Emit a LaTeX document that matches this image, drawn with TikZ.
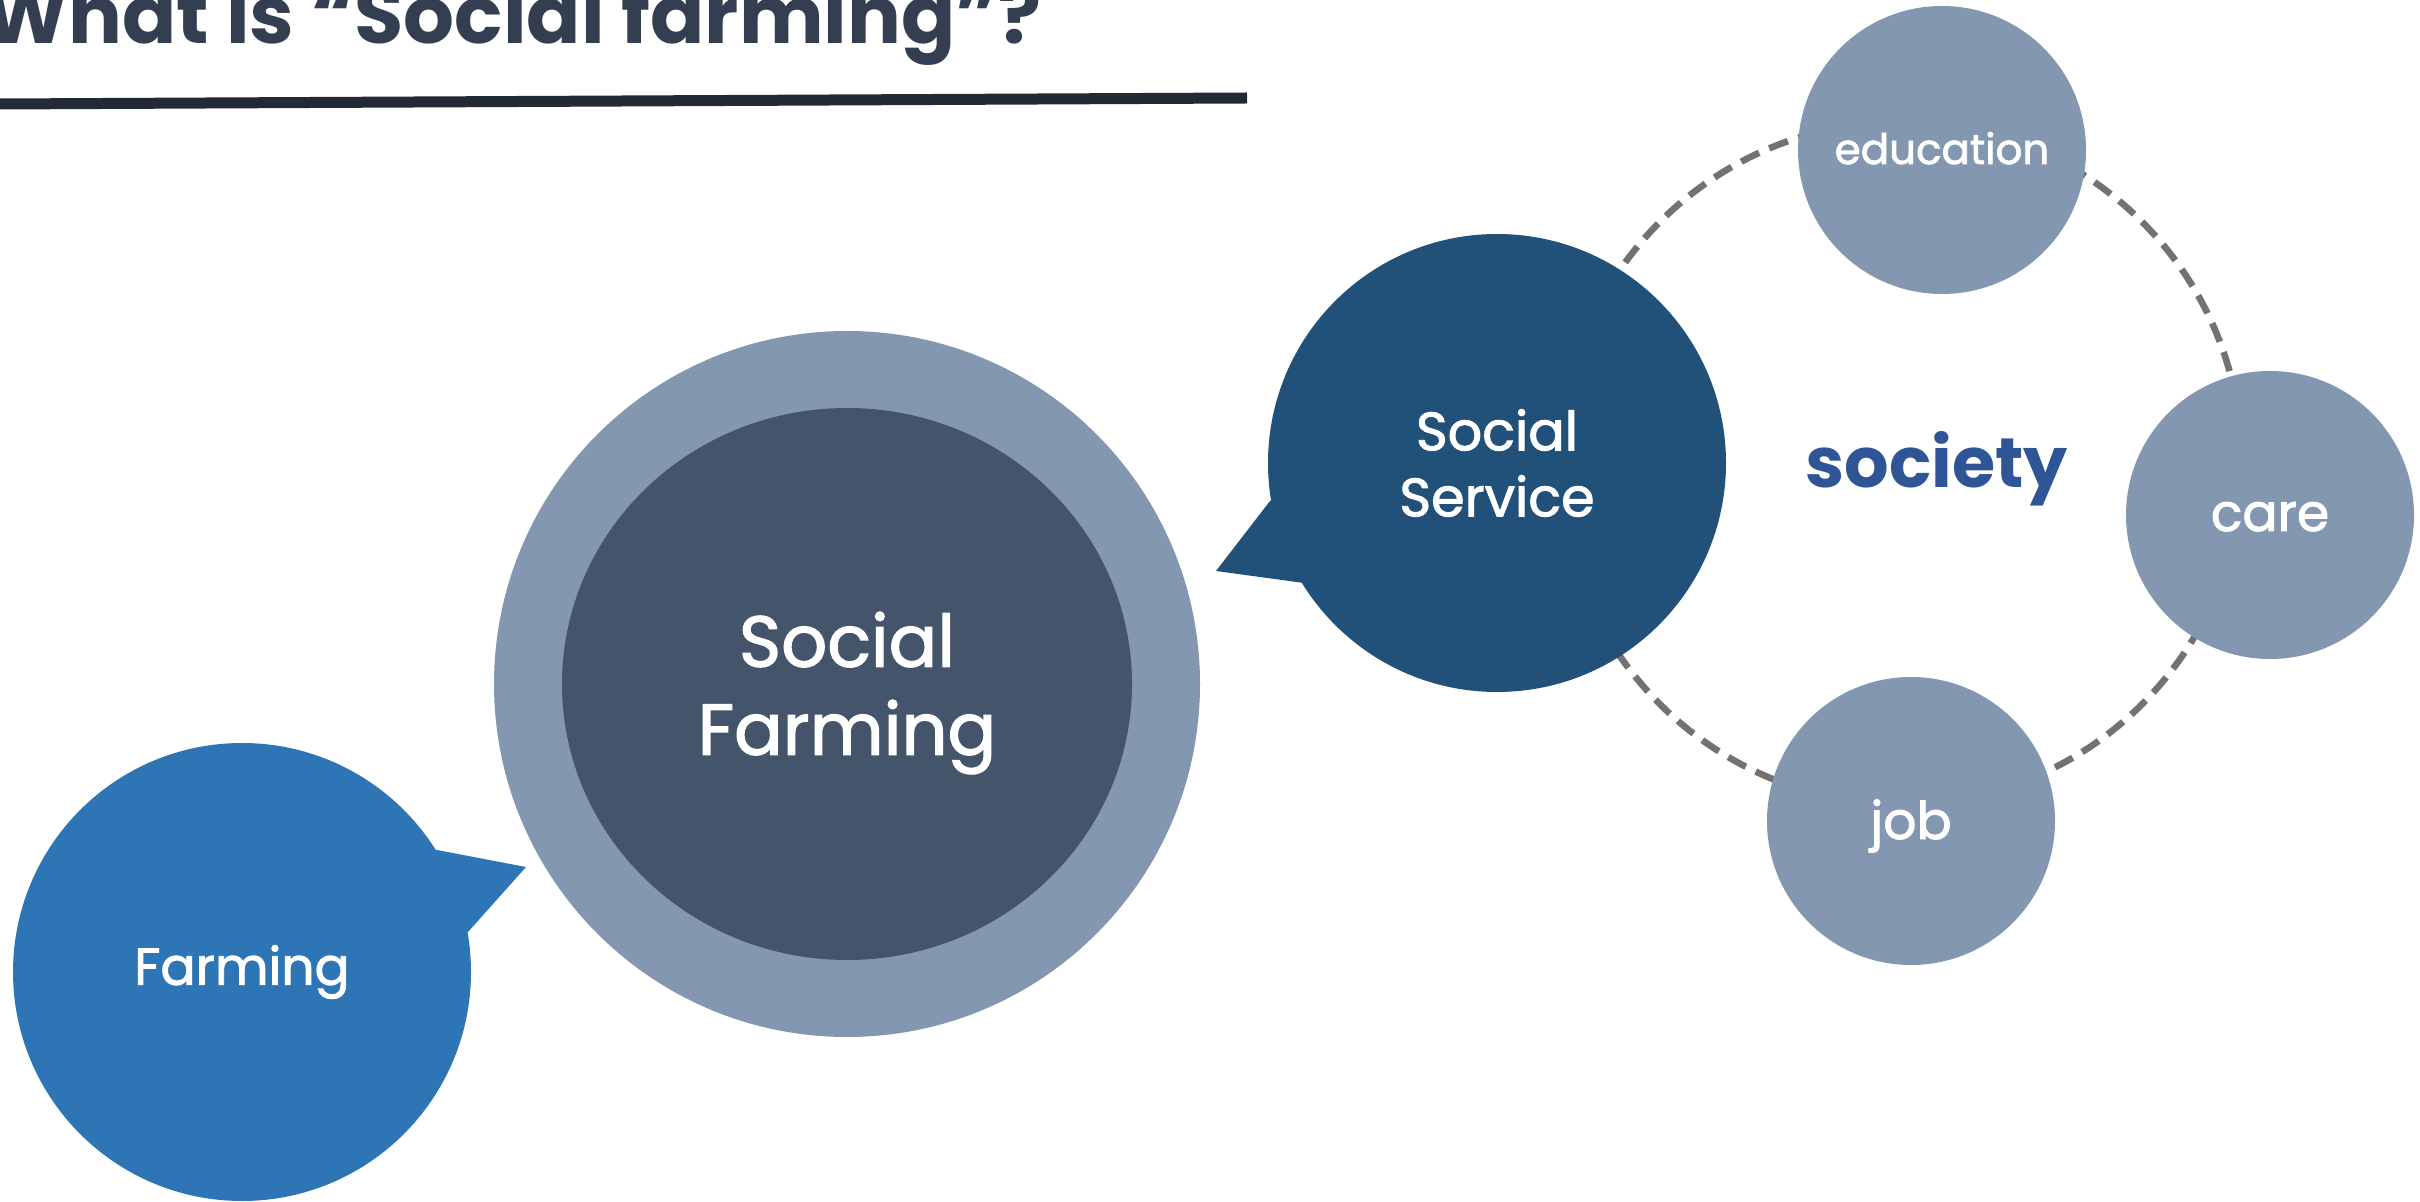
\documentclass[tikz,border=0pt]{standalone}
\usepackage{fontspec}
\setmainfont{Poppins}
\newfontfamily\bubblefont{Poppins}[FakeBold=1.8]
\usetikzlibrary{shapes.geometric}

\definecolor{farmblue}{HTML}{2E75B6}
\definecolor{serviceblue}{HTML}{215079}
\definecolor{ringgray}{HTML}{8497B0}
\definecolor{coreslate}{HTML}{44546A}
\definecolor{titleslate}{HTML}{333F50}
\definecolor{ruleslate}{HTML}{222A35}
\definecolor{societyblue}{HTML}{2F5597}
\definecolor{dashgray}{HTML}{767171}

\begin{document}
\begin{tikzpicture}[x=0.5pt,y=-0.5pt,
  bubble/.style={circle,inner sep=0pt,text=white,align=center},
  satellite/.style={circle,fill=ringgray,minimum size=144pt,inner sep=0pt},
  sattext/.style={text=white,inner sep=0pt,anchor=base,font=\bubblefont\fontsize{#1}{#1}\selectfont}]

\clip (0,0) rectangle (2420,1202);
\useasboundingbox (0,0) rectangle (2420,1202);

% Title
\node[anchor=base west,inner sep=0pt,text=titleslate,font=\bfseries\fontsize{40}{44}\selectfont]
  (title) at (-16,44) {What is “Social farming”?};
\draw[line width=5.5pt,ruleslate] (0,104) -- (1247,98);

% Society ring
\node[circle,draw=dashgray,line width=3.3pt,dash pattern=on 10pt off 5.5pt,minimum size=341pt] (ring) at (1901,463) {};
\node[anchor=base,inner sep=0pt,text=societyblue,font=\bfseries\fontsize{35}{38}\selectfont] (society) at (1937,488) {society};

% Ring satellites
\node[satellite] (education) at (1942,150) {};
\node[sattext=21] (edulabel) at (education.center) [yshift=-7pt] {education};
\node[satellite] (care) at (2270,515) {};
\node[sattext=26] (carelabel) at (care.center) [yshift=-8pt] {care};
\node[satellite] (job) at (1911,821) {};
\node[sattext=26] (joblabel) at (job.center) [yshift=-9pt] {job};

% Social service bubble
\fill[serviceblue] (1497,463) -- (1270,501) -- (1216,571) -- (1304,583) -- cycle;
\node[bubble,fill=serviceblue,minimum size=229pt,font=\bubblefont\fontsize{27}{33}\selectfont] (service) at (1497,463) {Social\\Service};

% Social farming core
\node[circle,fill=ringgray,minimum size=353pt] (outer) at (847,684) {};
\node[ellipse,fill=coreslate,minimum width=285pt,minimum height=276pt,inner sep=0pt] (core) at (847,684) {};
\node[text=white,align=center,inner sep=0pt,font=\bubblefont\fontsize{36}{44}\selectfont] (corelabel) at (847,693) {Social\\Farming};

% Farming bubble
\fill[farmblue] (242,972) -- (437,850) -- (526,867) -- (468,932) -- cycle;
\node[bubble,fill=farmblue,minimum size=229pt,font=\bubblefont\fontsize{26}{33}\selectfont] (farming) at (242,972) {Farming};

\end{tikzpicture}
\end{document}
